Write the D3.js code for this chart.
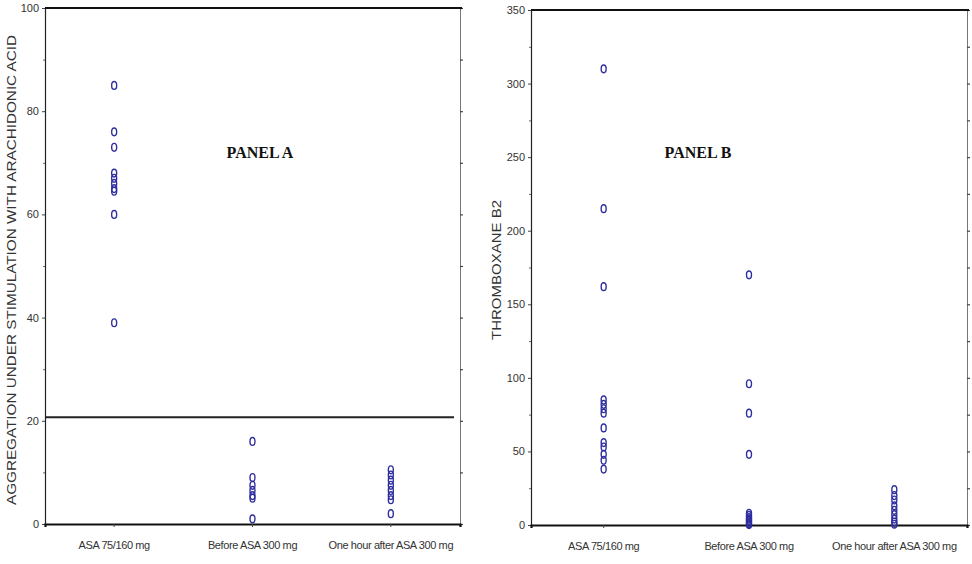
<!DOCTYPE html>
<html><head><meta charset="utf-8">
<script src="https://cdn.jsdelivr.net/npm/d3@7"></script>
<style>
html,body{margin:0;padding:0;background:#fff;}
svg{display:block;}
</style></head>
<body>
<svg id="chart" width="972" height="564"></svg>
<script>
const categories = ["ASA 75/160 mg", "Before ASA 300 mg", "One hour after ASA 300 mg"];

// Panel A: aggregation under stimulation with arachidonic acid
const aggAsa = [85, 76, 73, 68, 67, 66, 65, 64.5, 60, 39];
const aggBefore = [16, 9, 7.5, 6.5, 5.5, 5, 1];
const aggAfter = [10.5, 9.5, 8.5, 7.5, 6.5, 5.5, 4.7, 2];
const aggTicks = [0, 20, 40, 60, 80, 100];
const aggMinorTicks = [10, 30, 50, 70, 90];
const aggThreshold = 20.7;

// Panel B: thromboxane B2
const txbAsa = [310, 215, 162, 85, 82, 79, 76, 66, 56, 53, 48, 44, 38];
const txbBefore = [170, 96, 76, 48, 8, 6.5, 5, 4, 3, 2, 1, 0.3];
const txbAfter = [24, 20, 17, 13, 10, 7, 4, 2, 0.5];
const txbTicks = [0, 50, 100, 150, 200, 250, 300, 350];
const txbMinorTicks = [25, 75, 125, 175, 225, 275, 325];

const svg = d3.select("#chart");
const textColor = "#333";
const markColor = "#2e2ea0";

function drawPanel(o) {
  const g = svg.append("g");
  const x = d3.scaleBand().domain(categories).range([o.left, o.right]).padding(0);
  const y = d3.scaleLinear().domain([0, o.max]).range([o.bottom, o.top]);

  // left axis major
  const la = g.append("g").attr("transform", `translate(${o.left},0)`)
    .call(d3.axisLeft(y).tickValues(o.ticks).tickSize(3).tickPadding(3));
  la.select(".domain").attr("stroke", "#222").attr("stroke-width", 1.2);
  la.selectAll(".tick line").attr("stroke", "#444");
  la.selectAll("text").attr("fill", textColor).style("font-family", "Liberation Sans, Arial, sans-serif").style("font-size", "11px");
  // left minor
  const lm = g.append("g").attr("transform", `translate(${o.left},0)`)
    .call(d3.axisLeft(y).tickValues(o.minor).tickSize(2).tickFormat(""));
  lm.select(".domain").remove();
  lm.selectAll(".tick line").attr("stroke", "#666");

  // right axis
  const ra = g.append("g").attr("transform", `translate(${o.right},0)`)
    .call(d3.axisRight(y).tickValues(o.ticks.concat(o.minor)).tickSize(3).tickFormat(""));
  ra.select(".domain").attr("stroke", "#777").attr("stroke-width", 1);
  ra.selectAll(".tick line").attr("stroke", "#444").attr("stroke-width", 1.2);

  // bottom axis
  const ba = g.append("g").attr("transform", `translate(0,${o.bottom})`)
    .call(d3.axisBottom(x).tickSize(3).tickPadding(14));
  ba.select(".domain").attr("stroke", "#111").attr("stroke-width", 2.2);
  ba.selectAll(".tick line").attr("stroke", "#444");
  ba.selectAll("text").attr("fill", textColor).style("font-family", "Liberation Sans, Arial, sans-serif").style("font-size", "11px").style("letter-spacing", "-0.4px");

  // top border
  g.append("line").attr("x1", o.left).attr("x2", o.right + 2)
    .attr("y1", y(o.max)).attr("y2", y(o.max))
    .attr("stroke", "#111").attr("stroke-width", 2.2);

  // threshold
  if (o.threshold != null) {
    g.append("line").attr("x1", o.left).attr("x2", o.right - 6)
      .attr("y1", y(o.threshold)).attr("y2", y(o.threshold))
      .attr("stroke", "#222").attr("stroke-width", 2);
  }

  // points
  o.series.forEach((vals, i) => {
    const cx = x(categories[i]) + x.bandwidth() / 2;
    g.selectAll(null).data(vals).enter().append("ellipse")
      .attr("cx", cx).attr("cy", d => y(d))
      .attr("rx", 2.5).attr("ry", 3.9)
      .attr("fill", "none").attr("stroke", markColor).attr("stroke-width", 1.4);
  });

  // y label
  g.append("text")
    .attr("transform", `translate(${o.labelX},${o.labelY}) rotate(-90)`)
    .attr("text-anchor", "middle").attr("dominant-baseline", "middle")
    .attr("fill", textColor)
    .style("font-family", "Liberation Sans, Arial, sans-serif").style("font-size", "12.5px")
    .attr("textLength", o.labelLen).attr("lengthAdjust", "spacingAndGlyphs")
    .text(o.label);

  // panel title
  g.append("text").attr("x", o.titleX).attr("y", o.titleY)
    .attr("text-anchor", "middle").attr("fill", "#111")
    .style("font-family", "Liberation Serif, Times New Roman, serif")
    .style("font-weight", "bold").style("font-size", "16px")
    .text(o.title);
}

drawPanel({
  left: 45, right: 460, top: 8, bottom: 524, max: 100,
  ticks: aggTicks, minor: aggMinorTicks, threshold: aggThreshold,
  series: [aggAsa, aggBefore, aggAfter],
  label: "AGGREGATION UNDER STIMULATION WITH ARACHIDONIC ACID",
  labelX: 13, labelY: 270, labelLen: 470,
  title: "PANEL A", titleX: 260, titleY: 158
});

drawPanel({
  left: 531, right: 967, top: 10, bottom: 525, max: 350,
  ticks: txbTicks, minor: txbMinorTicks, threshold: null,
  series: [txbAsa, txbBefore, txbAfter],
  label: "THROMBOXANE B2",
  labelX: 498, labelY: 270, labelLen: 140,
  title: "PANEL B", titleX: 698, titleY: 158
});
</script>
</body></html>
